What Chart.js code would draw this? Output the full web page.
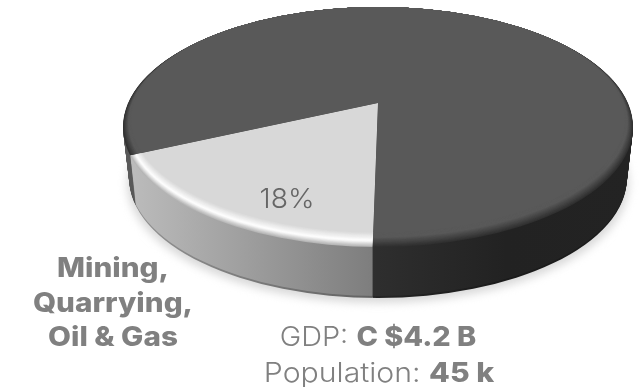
<!DOCTYPE html>
<html>
<head>
<meta charset="utf-8">
<script src="https://cdn.jsdelivr.net/npm/chart.js@4"></script>
<style>
  html, body { margin: 0; padding: 0; background: #fff; }
  #wrap { position: relative; width: 641px; height: 387px; overflow: hidden; font-family: Inter, sans-serif; color: #808080; }
  canvas { position: absolute; left: 0; top: 0; }
  .txt { position: absolute; white-space: nowrap; font-weight: 300; }
  .txt b { font-weight: 800; }
</style>
</head>
<body>
<div id="wrap"><canvas id="pie" width="641" height="387"></canvas></div>
<script>
const categories = ["Mining, Quarrying, Oil & Gas", "Other sectors"];
const shareValues = [18, 82];
const sectorLines = ["Mining,", "Quarrying,", "Oil & Gas"];
const statLabels = ["GDP:", "Population:"];
const statValues = ["C $4.2 B", "45 k"];

// top face of the tilted disc, the apex sits above the ellipse centre
const disc = { x: 378, y: 127, a: 255, b: 120, apexX: 378, apexY: 103, squash: 0.47, depth: 51 };
const topColors = ["#d8d8d8", "#595959"];

function mix(c1, c2, t) {
  const p = c => [1, 3, 5].map(i => parseInt(c.substr(i, 2), 16));
  const a = p(c1), b = p(c2);
  return "rgb(" + a.map((v, i) => Math.round(v + (b[i] - v) * t)).join(",") + ")";
}

const tiltedPie = {
  id: "tiltedPie",
  beforeDatasetsDraw(chart) {
    const ctx = chart.ctx;
    const arcs = chart.getDatasetMeta(0).data;
    const base = arcs.map(a => a.options);
    const cx = arcs[0].x, cy = arcs[0].y, R = arcs[0].outerRadius;
    const k = 340 / R;

    function paint(colors, shift, ea, eb, ey) {
      ctx.save();
      ctx.beginPath();
      ctx.ellipse(disc.x, ey + shift, ea, eb, 0, 0, Math.PI * 2);
      ctx.clip();
      ctx.translate(disc.apexX, disc.apexY + shift);
      ctx.scale(k, k * disc.squash);
      ctx.translate(-cx, -cy);
      arcs.forEach((arc, i) => {
        const o = Object.create(base[i]);
        o.backgroundColor = colors[i];
        arc.options = o;
        arc.draw(ctx);
      });
      ctx.restore();
    }

    // gradients are given in the pie's own space, the transform moves them
    const toPie = x => cx + (x - disc.apexX) / k;
    function sideGradients(dark) {
      const light = ctx.createLinearGradient(toPie(130), 0, toPie(378), 0);
      light.addColorStop(0, mix("#bcbcbc", "#000000", dark));
      light.addColorStop(1, mix("#7c7c7c", "#000000", dark));
      const rest = ctx.createLinearGradient(toPie(122), 0, toPie(634), 0);
      rest.addColorStop(0, mix("#5a5a5a", "#000000", dark));
      rest.addColorStop(0.5, mix("#2e2e2e", "#000000", dark));
      rest.addColorStop(0.75, mix("#222222", "#000000", dark));
      rest.addColorStop(1, mix("#232323", "#000000", dark));
      return [light, rest];
    }

    // soft shadow under the disc
    ctx.save();
    ctx.filter = "blur(4px)";
    ctx.fillStyle = "#d9d9d9";
    ctx.beginPath();
    ctx.ellipse(disc.x, disc.y + disc.depth + 5, disc.a - 4, disc.b, 0, 0, Math.PI * 2);
    ctx.fill();
    ctx.restore();

    // side wall, stacked from the bottom up
    for (let d = disc.depth; d >= 1; d--) {
      const dark = d >= disc.depth - 1 ? 0.22 : 0;
      paint(sideGradients(dark), d, disc.a - d * 0.12, disc.b, disc.y);
    }

    // top face with the bevel running along the front rim
    const steps = 18;
    for (let i = 0; i <= steps; i++) {
      const t = i / steps;
      const lightTop = t < 0.42 ? mix("#b4b4b4", "#ffffff", t / 0.42) : mix("#ffffff", topColors[0], (t - 0.42) / 0.58);
      const darkTop = mix("#303030", topColors[1], Math.min(1, t * 1.5));
      paint([lightTop, darkTop], 0, disc.a - i * 0.45, disc.b - i * 0.4, disc.y - i * 0.4);
    }

    arcs.forEach((arc, i) => { arc.options = base[i]; });
    return false;
  }
};

new Chart(document.getElementById("pie").getContext("2d"), {
  type: "pie",
  data: {
    labels: categories,
    datasets: [{ data: shareValues, backgroundColor: topColors, borderWidth: 0 }]
  },
  options: {
    responsive: false,
    animation: false,
    rotation: 181,
    events: [],
    plugins: { legend: { display: false }, tooltip: { enabled: false } }
  },
  plugins: [tiltedPie]
});

// Montserrat is not installed, so Inter gets stretched to the same line widths
function addText(html, x, y, size, stretch, color) {
  const el = document.createElement("div");
  el.className = "txt";
  el.innerHTML = html;
  el.style.left = x + "px";
  el.style.top = y + "px";
  el.style.fontSize = size + "px";
  el.style.transform = "translate(-50%, -50%) scaleX(" + stretch + ")";
  if (color) el.style.color = color;
  document.getElementById("wrap").appendChild(el);
}

const esc = s => s.replace(/&/g, "&amp;");
addText(shareValues[0] + "%", 286.5, 198, 27, 1.05, "#666");
sectorLines.forEach((line, i) => addText("<b>" + esc(line) + "</b>", 113, 267 + i * 34.5, 27, 1.1));
statLabels.forEach((label, i) => addText(label + " <b>" + statValues[i] + "</b>", i ? 378.5 : 378, 336 + i * 36, 27, i ? 1.12 : 1.07));
</script>
</body>
</html>
